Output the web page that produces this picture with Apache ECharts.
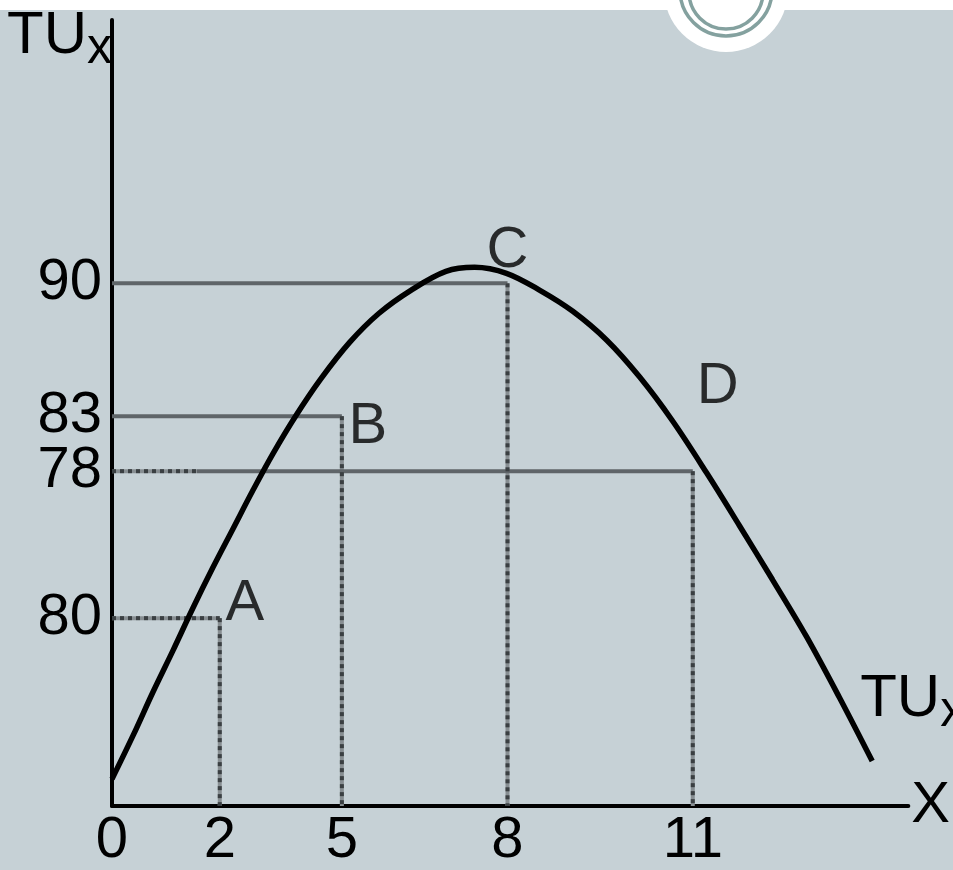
<!DOCTYPE html>
<html>
<head>
<meta charset="utf-8">
<script src="https://cdn.jsdelivr.net/npm/echarts@6/dist/echarts.min.js"></script>
<style>
  html, body { margin: 0; padding: 0; background: #ffffff; }
  #chart { width: 953px; height: 870px; }
</style>
</head>
<body>
<div id="chart"></div>
<script>
// Schematic diagram: the axes are not to scale, so tick labels sit at
// schematic positions on a hidden linear scale (x: 0..15, y: 0..100).
const xTickPos    = [0, 2.03, 4.33, 7.45, 10.94];
const xTickLabels = ['0', '2', '5', '8', '11'];
const yTickPos    = [66.5, 49.6, 42.6, 23.9];
const yTickLabels = ['90', '83', '78', '80'];

// Total utility curve TUx (schematic units)
const curveX = [0, 0.40, 0.77, 1.15, 1.52, 1.90, 2.28, 2.65, 3.03, 3.46, 3.93, 4.48, 5.03, 5.63, 6.29, 6.83, 7.43, 8.06, 8.68, 9.32, 9.94, 10.56, 11.20, 11.82, 12.44, 13.08, 13.70, 14.32];
const curveY = [3.43, 9.01, 14.47, 19.80, 25.13, 30.33, 35.28, 40.10, 44.80, 49.62, 54.31, 59.01, 62.69, 65.61, 68.02, 68.53, 67.77, 65.61, 62.94, 59.26, 54.57, 48.98, 42.39, 35.66, 28.81, 21.57, 13.83, 5.71];

// Marked points A..D
const pointNames = ['A', 'B', 'C', 'D'];
const pointX = [2.03, 4.33, 7.45, 10.94];
const pointY = [23.9, 49.6, 66.5, 42.6];
// horizontal guide style per point: 'dotted', 'solid', or 'mixed' (dotted then solid)
const hGuideStyle = ['dotted', 'solid', 'solid', 'mixed'];
const mixedDotEnd = 1.6;

const FONT = 'Liberation Sans, Arial, sans-serif';
const TXT = '#000000';
const SOLID = '#5f6569';
const DOT_BASE = '#878e92';
const DOT_DARK = '#3a3f42';

const series = [];
function solidSeg(a, b) {
  series.push({ type: 'line', data: [a, b], symbol: 'none', silent: true, z: 2,
    lineStyle: { color: SOLID, width: 4, cap: 'butt' } });
}
function dottedSeg(a, b) {
  series.push({ type: 'line', data: [a, b], symbol: 'none', silent: true, z: 2,
    lineStyle: { color: DOT_BASE, width: 4, cap: 'butt' } });
  series.push({ type: 'line', data: [a, b], symbol: 'none', silent: true, z: 3,
    lineStyle: { color: DOT_DARK, width: 4, type: [4, 4], cap: 'butt' } });
}
for (let i = 0; i < pointNames.length; i++) {
  const corner = [pointX[i], pointY[i]];
  if (hGuideStyle[i] === 'dotted') dottedSeg([0, pointY[i]], corner);
  else if (hGuideStyle[i] === 'solid') solidSeg([0, pointY[i]], corner);
  else { dottedSeg([0, pointY[i]], [mixedDotEnd, pointY[i]]); solidSeg([mixedDotEnd, pointY[i]], corner); }
  dottedSeg(corner, [pointX[i], 0]);
}

const subRich = {
  t: { fontSize: 60, fontFamily: FONT, color: TXT },
  s: { fontSize: 50, fontFamily: FONT, color: TXT, padding: [26, 0, 0, 0] }
};

series.push({
  type: 'line', name: 'TUx',
  data: curveX.map((x, i) => [x, curveY[i]]),
  smooth: 0.35, symbol: 'none', z: 5,
  lineStyle: { color: '#000', width: 5.5 },
  endLabel: { show: true, formatter: '{t|TU}{s|x}', rich: subRich, offset: [-20, -62] }
});

series.push({
  type: 'scatter', z: 6, symbolSize: 1, itemStyle: { color: 'rgba(0,0,0,0)' },
  data: pointNames.map((n, i) => ({ name: n, value: [pointX[i], pointY[i]] })),
  label: {
    show: true, position: 'inside', formatter: p => p.name,
    fontSize: 58, fontFamily: FONT, color: TXT
  },
  labelLayout: function (p) {
    const off = { A: [25, -14], B: [26, 11], C: [0, -32], D: [25, -84] }[p.text] || [0, 0];
    return { dx: off[0], dy: off[1] };
  }
});

function nearestLabel(v, pos, labels) {
  let best = 0;
  for (let i = 1; i < pos.length; i++) if (Math.abs(pos[i] - v) < Math.abs(pos[best] - v)) best = i;
  return labels[best];
}

const chart = echarts.init(document.getElementById('chart'), null, { renderer: 'canvas' });
chart.setOption({
  animation: false,
  backgroundColor: '#c6d1d6',
  grid: { left: 112, right: 44, top: 20, bottom: 62 },
  xAxis: {
    type: 'value', min: 0, max: 15,
    name: 'X', nameLocation: 'end', nameGap: 3,
    nameTextStyle: { fontSize: 58, fontFamily: FONT, color: TXT, align: 'left', verticalAlign: 'middle', padding: [8, 0, 0, 0] },
    axisLine: { show: true, onZero: false, lineStyle: { color: '#000', width: 4 } },
    axisTick: { show: false },
    splitLine: { show: false },
    axisLabel: {
      customValues: xTickPos, margin: 6,
      fontSize: 58, fontFamily: FONT, color: TXT,
      formatter: v => nearestLabel(v, xTickPos, xTickLabels)
    }
  },
  yAxis: {
    type: 'value', min: 0, max: 100,
    name: '{t|TU}{s|x}', nameLocation: 'end', nameGap: -16,
    nameTextStyle: { align: 'right', verticalAlign: 'middle', padding: [0, 0, 0, 0], rich: subRich },
    axisLine: { show: true, onZero: false, lineStyle: { color: '#000', width: 4 } },
    axisTick: { show: false },
    splitLine: { show: false },
    axisLabel: {
      customValues: yTickPos, margin: 10,
      fontSize: 58, fontFamily: FONT, color: TXT,
      formatter: v => nearestLabel(v, yTickPos, yTickLabels)
    }
  },
  graphic: [
    { type: 'rect', z: 100, silent: true, shape: { x: 0, y: 0, width: 953, height: 10 }, style: { fill: '#ffffff' } },
    { type: 'circle', z: 100, silent: true, shape: { cx: 726, cy: -10, r: 62 }, style: { fill: '#ffffff' } },
    { type: 'circle', z: 101, silent: true, shape: { cx: 726, cy: -10, r: 46 }, style: { fill: 'none', stroke: '#84a19f', lineWidth: 3.5 } },
    { type: 'circle', z: 101, silent: true, shape: { cx: 726, cy: -8, r: 37 }, style: { fill: 'none', stroke: '#84a19f', lineWidth: 3.5 } }
  ],
  series: series
});
</script>
</body>
</html>
